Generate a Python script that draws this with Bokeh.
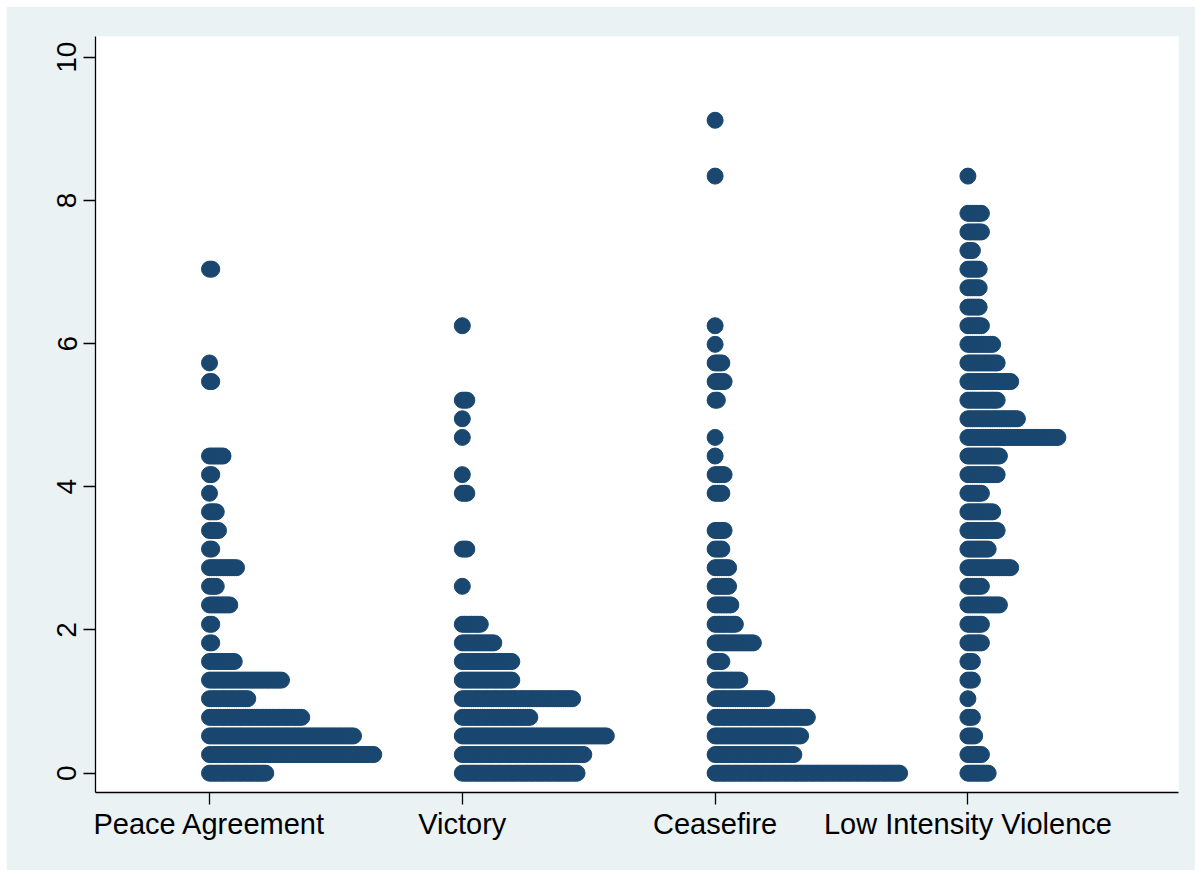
from bokeh.plotting import figure
from bokeh.models import ColumnDataSource, FixedTicker, Range1d
from bokeh.embed import file_html
from bokeh.resources import INLINE

categories = ["Peace Agreement", "Victory", "Ceasefire", "Low Intensity Violence"]

peace_y = [0.00, 0.26, 0.52, 0.78, 1.04, 1.30, 1.56, 1.82, 2.08, 2.35, 2.61, 2.87,
           3.13, 3.39, 3.65, 3.91, 4.17, 4.43, 5.47, 5.73, 7.04]
peace_n = [26, 74, 65, 42, 18, 33, 12, 2, 2, 10, 4, 13, 2, 5, 4, 1, 2, 7, 2, 1, 2]

victory_y = [0.00, 0.26, 0.52, 0.78, 1.04, 1.30, 1.56, 1.82, 2.08, 2.61, 3.13,
             3.91, 4.17, 4.69, 4.95, 5.21, 6.25]
victory_n = [52, 55, 65, 31, 50, 23, 23, 15, 9, 1, 3, 3, 1, 1, 1, 3, 1]

ceasefire_y = [0.00, 0.26, 0.52, 0.78, 1.04, 1.30, 1.56, 1.82, 2.08, 2.35, 2.61, 2.87,
               3.13, 3.39, 3.91, 4.17, 4.43, 4.69, 5.21, 5.47, 5.73, 5.99, 6.25, 8.34, 9.12]
ceasefire_n = [83, 36, 39, 42, 24, 12, 4, 18, 10, 8, 7, 7, 4, 5, 4, 5, 1, 1, 2, 5, 4, 1, 1, 1, 1]

liv_y = [0.00, 0.26, 0.52, 0.78, 1.04, 1.30, 1.56, 1.82, 2.08, 2.35, 2.61, 2.87,
         3.13, 3.39, 3.65, 3.91, 4.17, 4.43, 4.69, 4.95, 5.21, 5.47, 5.73, 5.99,
         6.25, 6.51, 6.78, 7.04, 7.30, 7.56, 7.82, 8.34]
liv_n = [10, 7, 4, 3, 1, 3, 3, 7, 7, 15, 7, 20, 10, 14, 12, 7, 14, 15, 41, 23, 14, 20,
         14, 12, 7, 6, 6, 6, 3, 7, 7, 1]

y_ticks = [0, 2, 4, 6, 8, 10]

groups = [(peace_y, peace_n), (victory_y, victory_n),
          (ceasefire_y, ceasefire_n), (liv_y, liv_n)]

DX = 0.0089  # horizontal step between stacked dots (data units)
xs, ys = [], []
for gi, (yv, nv) in enumerate(groups, start=1):
    for y, n in zip(yv, nv):
        for i in range(n):
            xs.append(gi + i * DX)
            ys.append(y)

src = ColumnDataSource(dict(x=xs, y=ys))

p = figure(width=1189, height=864, output_backend="svg", toolbar_location=None,
           x_range=Range1d(0.549, 4.833), y_range=Range1d(-0.27, 10.29),
           min_border_left=89, min_border_right=17, min_border_top=30, min_border_bottom=78)
p.margin = (6, 6, 6, 6)
p.border_fill_color = "#eaf2f3"
p.background_fill_color = "white"
p.outline_line_color = None
p.xgrid.visible = False
p.ygrid.visible = False

navy = "#1a476f"
p.scatter("x", "y", source=src, marker="circle", size=16, fill_color=navy,
          line_color=navy, line_width=1)

font = "Liberation Sans"
p.xaxis.ticker = FixedTicker(ticks=[1, 2, 3, 4])
p.xaxis.major_label_overrides = {i + 1: c for i, c in enumerate(categories)}
p.yaxis.ticker = FixedTicker(ticks=y_ticks)
p.yaxis.major_label_orientation = "vertical"

for ax in (p.xaxis[0], p.yaxis[0]):
    ax.axis_line_color = "black"
    ax.axis_line_width = 1.3
    ax.major_tick_line_color = "black"
    ax.major_tick_line_width = 1.3
    ax.major_tick_out = 12
    ax.major_tick_in = 0
    ax.minor_tick_line_color = None
    ax.major_label_text_font = font
    ax.major_label_text_color = "black"

p.xaxis.major_label_standoff = 3
p.yaxis.major_label_standoff = 7
p.xaxis.major_label_text_font_size = "29px"
p.yaxis.major_label_text_font_size = "28px"

open("out.html", "w").write(file_html(p, INLINE))
